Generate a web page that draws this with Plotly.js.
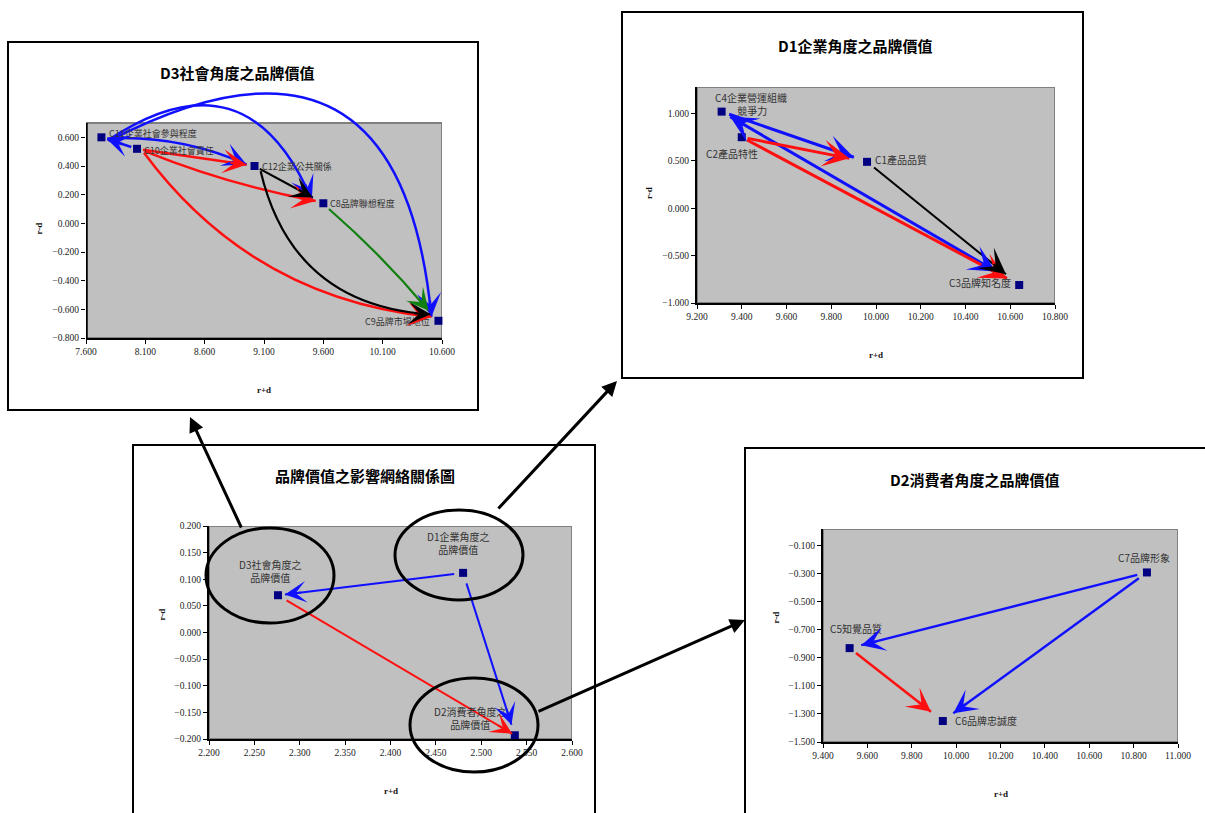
<!DOCTYPE html>
<html><head><meta charset="utf-8">
<script src="https://cdn.plot.ly/plotly-3.0.1.min.js"></script>
<style>html,body{margin:0;padding:0;background:#fff}#chart{width:1205px;height:813px}</style>
</head><body><div id="chart"></div>
<script>
// ================= DATA =================
// D3 社會角度
const d3Labels = ["C11企業社會參與程度", "C10企業社會責任", "C12企業公共關係", "C8品牌聯想程度", "C9品牌市場地位"];
const d3X = [7.73, 8.03, 9.02, 9.60, 10.57];
const d3Y = [0.60, 0.52, 0.40, 0.14, -0.68];
const d3Edges = [[1,0,"blue"],[0,2,"blue"],[0,3,"blue"],[0,4,"blue"],[1,2,"red"],[1,3,"red"],[1,4,"red"],[2,3,"black"],[2,4,"black"],[3,4,"green"]];
const d3XTicks = [7.6, 8.1, 8.6, 9.1, 9.6, 10.1, 10.6];
const d3YTicks = [-0.8, -0.6, -0.4, -0.2, 0, 0.2, 0.4, 0.6];

// D1 企業角度
const d1Labels = ["C4企業營運組織<br>　　 競爭力", "C2產品特性", "C1產品品質", "C3品牌知名度"];
const d1X = [9.31, 9.40, 9.96, 10.64];
const d1Y = [1.02, 0.75, 0.49, -0.81];
const d1Edges = [[0,2,"blue"],[0,3,"blue"],[1,2,"red"],[1,3,"red"],[2,3,"black"]];
const d1XTicks = [9.2, 9.4, 9.6, 9.8, 10.0, 10.2, 10.4, 10.6, 10.8];
const d1YTicks = [-1.0, -0.5, 0, 0.5, 1.0];

// D2 消費者角度
const d2Labels = ["C7品牌形象", "C5知覺品質", "C6品牌忠誠度"];
const d2X = [10.86, 9.52, 9.94];
const d2Y = [-0.29, -0.83, -1.35];
const d2Edges = [[0,1,"blue"],[0,2,"blue"],[1,2,"red"]];
const d2XTicks = [9.4, 9.6, 9.8, 10.0, 10.2, 10.4, 10.6, 10.8, 11.0];
const d2YTicks = [-1.5, -1.3, -1.1, -0.9, -0.7, -0.5, -0.3, -0.1];

// 構面關係圖
const cLabels = ["D3社會角度之<br>品牌價值", "D1企業角度之<br>品牌價值", "D2消費者角度之<br>品牌價值"];
const cX = [2.276, 2.480, 2.537];
const cY = [0.070, 0.112, -0.193];
const cEdges = [[1,0,"blue"],[1,2,"blue"],[0,2,"red"]];
const cXTicks = [2.2, 2.25, 2.3, 2.35, 2.4, 2.45, 2.5, 2.55, 2.6];
const cYTicks = [-0.2, -0.15, -0.1, -0.05, 0, 0.05, 0.1, 0.15, 0.2];

const titles = ["D3社會角度之品牌價值", "D1企業角度之品牌價值", "D2消費者角度之品牌價值", "品牌價值之影響網絡關係圖"];
const xTitle = "r+d", yTitle = "r-d";

// ================= LAYOUT / STYLE =================
const W = 1205, H = 813;
const SP = {
  d3: {xa:'x',  ya:'y',  px:[86,442],  py:[80,338],  xr:[7.6,10.6], yr:[-0.8,1.0], bgTop:0.7},
  d1: {xa:'x2', ya:'y2', px:[697,1055], py:[87,303], xr:[9.2,10.8], yr:[-1.0,1.28]},
  d2: {xa:'x3', ya:'y3', px:[823,1178], py:[529,742], xr:[9.4,11.0], yr:[-1.5,0.02]},
  c:  {xa:'x4', ya:'y4', px:[209,572], py:[526,739], xr:[2.2,2.6], yr:[-0.2,0.2]}
};
const COL = {blue:'#1010ff', red:'#ff1010', black:'#000000', green:'#108010'};

// edge styles: bend (curvature), start gap, end gap (px), width, head size, both ends
const d3EdgeStyle = [
  {k:0, g0:6, g1:6, w:2.5, s:1.5},
  {k:0.12, g0:6, g1:8, w:2.5, s:1.6},
  {k:0.6, g0:8, g1:12, w:2.5, s:1.6},
  {k:0.74, g0:8, g1:8, w:2.5, s:1.6},
  {k:0, g0:6, g1:8, w:2.5, s:1.6},
  {k:-0.05, g0:8, g1:8, w:2.5, s:1.6},
  {k:-0.22, g0:8, g1:8, w:2.5, s:1.6},
  {k:0, g0:6, g1:12, w:2.2, s:1.7},
  {k:-0.37, g0:8, g1:10, w:2.2, s:1.7},
  {k:0.04, g0:8, g1:14, w:2.2, s:1.7}
];
const d1EdgeStyle = [
  {k:0, g0:8, g1:14, w:3, s:1.5},
  {k:0, g0:10, g1:27, w:3, s:1.5, both:true},
  {k:0, g0:6, g1:18, w:3, s:1.5},
  {k:0, g0:6, g1:14, w:3, s:1.5},
  {k:0, g0:9, g1:17, w:2, s:2.2}
];
const d2EdgeStyle = [
  {k:0, g0:10, g1:12, w:2.5, s:1.6},
  {k:0, g0:10, g1:13, w:2.5, s:1.6},
  {k:0, g0:8, g1:15, w:2.5, s:1.6}
];
const cEdgeStyle = [
  {k:0, g0:9, g1:7, w:2, s:1.8},
  {k:0, g0:11, g1:11, w:2, s:1.8},
  {k:0, g0:10, g1:3, w:2, s:1.8}
];

// label placement styles
const d3LabelPos = [
  {xa:'left', ya:'middle', xs:6, ys:4, fs:9},
  {xa:'left', ya:'middle', xs:5, ys:-2, fs:9},
  {xa:'left', ya:'middle', xs:5, ys:0, fs:9},
  {xa:'left', ya:'middle', xs:5, ys:0, fs:9},
  {xa:'right', ya:'middle', xs:-6, ys:-1, fs:9}
];
const d1LabelPos = [
  {xa:'left', ya:'bottom', xs:-9, ys:-8, al:'left'},
  {xa:'center', ya:'top', xs:-10, ys:-7},
  {xa:'left', ya:'middle', xs:6, ys:2},
  {xa:'right', ya:'middle', xs:-6, ys:3}
];
const d2LabelPos = [
  {xa:'center', ya:'bottom', xs:-3, ys:5},
  {xa:'center', ya:'bottom', xs:6, ys:10},
  {xa:'left', ya:'middle', xs:10, ys:0}
];
const cLabelPos = [
  {xa:'center', ya:'bottom', xs:-8, ys:8},
  {xa:'center', ya:'bottom', xs:-5, ys:14},
  {xa:'center', ya:'middle', xs:-45, ys:17}
];

// ================= HELPERS =================
function pxOf(sp, x, y){
  return [sp.px[0] + (x-sp.xr[0])/(sp.xr[1]-sp.xr[0])*(sp.px[1]-sp.px[0]),
          sp.py[1] - (y-sp.yr[0])/(sp.yr[1]-sp.yr[0])*(sp.py[1]-sp.py[0])];
}
function dataOf(sp, X, Y){
  return [sp.xr[0] + (X-sp.px[0])/(sp.px[1]-sp.px[0])*(sp.xr[1]-sp.xr[0]),
          sp.yr[0] + (sp.py[1]-Y)/(sp.py[1]-sp.py[0])*(sp.yr[1]-sp.yr[0])];
}
const layout = {
  width:W, height:H, margin:{l:0,r:0,t:0,b:0},
  paper_bgcolor:'#ffffff', plot_bgcolor:'rgba(0,0,0,0)',
  showlegend:false, shapes:[], annotations:[], hovermode:false
};
const traces = [];
const tickFont = {family:'Liberation Serif, serif', size:9.5, color:'#222'};

function axisName(id){ return id.replace('x','xaxis').replace('y','yaxis'); }

function addSubplot(sp, xs, ys, labels, labelPos, edges, edgeStyles, xt, yt, showYLine){
  const xk = axisName(sp.xa), yk = axisName(sp.ya);
  const common = {showgrid:false, zeroline:false, ticks:'outside', ticklen:4, tickwidth:1,
    tickcolor:'#000', tickformat:'.3f', tickfont:tickFont, linecolor:'#000', linewidth:2, fixedrange:true};
  layout[xk] = Object.assign({}, common, {domain:[sp.px[0]/W, sp.px[1]/W], range:sp.xr, anchor:sp.ya,
    tickmode:'array', tickvals:xt, showline:true});
  layout[yk] = Object.assign({}, common, {domain:[1-sp.py[1]/H, 1-sp.py[0]/H], range:sp.yr, anchor:sp.xa,
    tickmode:'array', tickvals:yt, showline:showYLine});
  const top = sp.bgTop !== undefined ? sp.bgTop : sp.yr[1];
  layout.shapes.push({type:'rect', xref:sp.xa, yref:sp.ya, x0:sp.xr[0], x1:sp.xr[1], y0:sp.yr[0], y1:top,
    fillcolor:'#c0c0c0', line:{color:'#808080', width:2}, layer:'below'});
  if(!showYLine){
    layout.shapes.push({type:'line', xref:sp.xa, yref:sp.ya, x0:sp.xr[0], x1:sp.xr[0], y0:sp.yr[0], y1:top,
      line:{color:'#000', width:3.5}, layer:'below'});
  }
  traces.push({type:'scatter', mode:'markers', x:xs, y:ys, xaxis:sp.xa, yaxis:sp.ya,
    marker:{symbol:'square', size:8, color:'#000080'}, hoverinfo:'skip', cliponaxis:false});
  labels.forEach((t,i)=>{
    const p = labelPos[i];
    layout.annotations.push({xref:sp.xa, yref:sp.ya, x:xs[i], y:ys[i], text:t, showarrow:false,
      xanchor:p.xa, yanchor:p.ya, xshift:p.xs, yshift:p.ys, align:p.al||'center',
      font:{family:'Noto Sans CJK TC, sans-serif', size:p.fs||10, color:'#333'}});
  });
  edges.forEach((e,i)=>{
    const st = edgeStyles[i];
    const color = COL[e[2]];
    const A = pxOf(sp, xs[e[0]], ys[e[0]]), B = pxOf(sp, xs[e[1]], ys[e[1]]);
    const dx = B[0]-A[0], dy = B[1]-A[1], L = Math.hypot(dx,dy), ux = dx/L, uy = dy/L;
    const P0 = [A[0]+ux*st.g0, A[1]+uy*st.g0], P2 = [B[0]-ux*st.g1, B[1]-uy*st.g1];
    const cdx = P2[0]-P0[0], cdy = P2[1]-P0[1];
    const C = [(P0[0]+P2[0])/2 + st.k*cdy, (P0[1]+P2[1])/2 - st.k*cdx];
    const d0 = dataOf(sp, P0[0], P0[1]), dc = dataOf(sp, C[0], C[1]), d2 = dataOf(sp, P2[0], P2[1]);
    layout.shapes.push({type:'path', xref:sp.xa, yref:sp.ya, layer:'above',
      path:`M${d0[0]},${d0[1]} Q${dc[0]},${dc[1]} ${d2[0]},${d2[1]}`, line:{color:color, width:st.w}});
    const head = (tip, ctrl) => {
      const tx = tip[0]-ctrl[0], ty = tip[1]-ctrl[1], tl = Math.hypot(tx,ty);
      const tail = [tip[0]-tx/tl*18, tip[1]-ty/tl*18];
      const dt = dataOf(sp, tip[0], tip[1]), dtl = dataOf(sp, tail[0], tail[1]);
      layout.annotations.push({xref:sp.xa, yref:sp.ya, axref:sp.xa, ayref:sp.ya, x:dt[0], y:dt[1],
        ax:dtl[0], ay:dtl[1], text:'', showarrow:true, arrowhead:3, arrowsize:st.s, arrowwidth:st.w,
        arrowcolor:color, standoff:0});
    };
    head(P2, C);
    if(st.both) head(P0, C);
  });
  // axis titles
  layout.annotations.push({xref:sp.xa+' domain', yref:sp.ya+' domain', x:0.5, y:0,
    yanchor:'middle', yshift:-52, text:xTitle, showarrow:false,
    font:{family:'Liberation Serif, serif', size:9, color:'#111', weight:'bold'}});
  const midY = sp.bgTop !== undefined ? (sp.py[1] - (sp.py[1]-pxOf(sp, 0, sp.bgTop)[1])/2) : (sp.py[0]+sp.py[1])/2;
  layout.annotations.push({xref:sp.xa+' domain', yref:'paper', x:0, y:1-(midY-10)/H,
    xshift:-55, text:yTitle, textangle:-90, showarrow:false,
    font:{family:'Liberation Serif, serif', size:9, color:'#111', weight:'bold'}});
}

// frames (white boxes)
[[8,42,478,410],[622,12,1083,378],[133,445,595,835],[745,448,1215,835]].forEach(b=>{
  layout.shapes.push({type:'rect', xref:'paper', yref:'paper', x0:b[0]/W, x1:b[2]/W, y0:1-b[3]/H, y1:1-b[1]/H,
    fillcolor:'#ffffff', line:{color:'#000', width:2}, layer:'below'});
});

addSubplot(SP.d3, d3X, d3Y, d3Labels, d3LabelPos, d3Edges, d3EdgeStyle, d3XTicks, d3YTicks, false);
addSubplot(SP.d1, d1X, d1Y, d1Labels, d1LabelPos, d1Edges, d1EdgeStyle, d1XTicks, d1YTicks, true);
addSubplot(SP.d2, d2X, d2Y, d2Labels, d2LabelPos, d2Edges, d2EdgeStyle, d2XTicks, d2YTicks, true);
addSubplot(SP.c, cX, cY, cLabels, cLabelPos, cEdges, cEdgeStyle, cXTicks, cYTicks, true);

// chart titles
const titlePos = [[237,72],[855,45],[975,479],[365,476]];
titles.forEach((t,i)=>{
  layout.annotations.push({xref:'paper', yref:'paper', x:titlePos[i][0]/W, y:1-titlePos[i][1]/H,
    xanchor:'center', yanchor:'middle', text:t, showarrow:false,
    font:{family:'Noto Sans CJK TC, sans-serif', size:15, color:'#000', weight:'bold'}});
});

// circles around the constructs
[[206,528,334,623],[395,510,523,600],[410,678,538,772]].forEach(c=>{
  layout.shapes.push({type:'circle', xref:'paper', yref:'paper', x0:c[0]/W, x1:c[2]/W, y0:1-c[3]/H, y1:1-c[1]/H,
    line:{color:'#000', width:3}, layer:'above'});
});
// connectors from circles to the detail charts
[[242,529,190,417],[497,510,617,381],[537,712,745,620]].forEach(a=>{
  layout.annotations.push({xref:'paper', yref:'paper', x:a[2]/W, y:1-a[3]/H, axref:'pixel', ayref:'pixel',
    ax:a[0]-a[2], ay:a[1]-a[3], text:'', showarrow:true, arrowhead:2, arrowsize:1, arrowwidth:3, arrowcolor:'#000', standoff:0});
});

Plotly.newPlot('chart', traces, layout, {staticPlot:true, displayModeBar:false});
</script>
</body></html>
